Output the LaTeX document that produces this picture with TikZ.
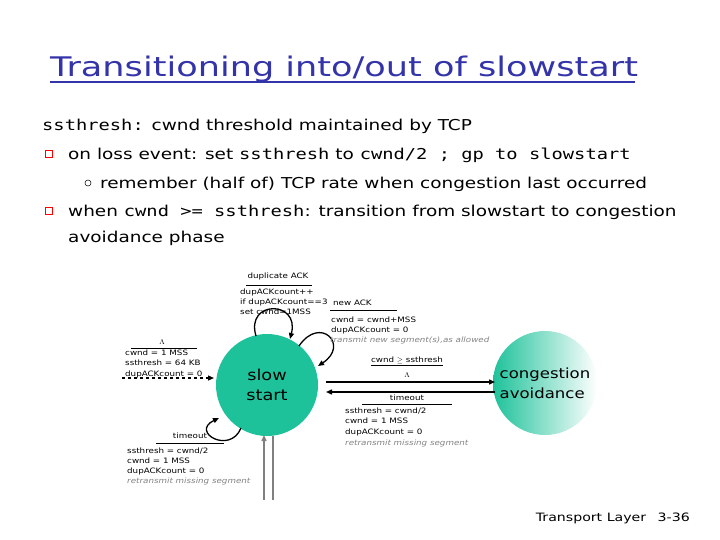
\documentclass[tikz,border=0pt]{standalone}
\usepackage{fontspec}
\setmainfont[FakeStretch=1.18]{DejaVu Sans}
\newfontfamily\slide[FakeStretch=1.23]{DejaVu Sans}
\newfontfamily\slidetitle[FakeStretch=1.3]{DejaVu Sans}
\setmonofont[FakeStretch=1.25]{DejaVu Sans Mono}
\usetikzlibrary{arrows.meta,shadings}
\definecolor{ttl}{RGB}{51,51,170}
\definecolor{ssg}{RGB}{30,194,154}
\definecolor{grayt}{RGB}{130,130,130}
\begin{document}
\begin{tikzpicture}[x=1pt,y=-1pt,
  lab/.style={font=\fontsize{7.4}{9.6}\selectfont,inner sep=0,anchor=west,align=left},
  glab/.style={lab,text=grayt,font=\fontsize{7.4}{9.6}\selectfont\itshape},
  body/.style={font=\slide\fontsize{15}{20}\selectfont,anchor=base west,inner sep=0},
  arr/.style={-{Triangle[length=6pt,width=5pt]},line width=1.4pt},
  loop/.style={-{Triangle[length=6pt,width=5pt]},line width=1.3pt}]
\useasboundingbox (0,0) rectangle (720,540);
\node[font=\slidetitle\fontsize{27}{30}\selectfont,text=ttl,anchor=base west,inner sep=0] (title) at (50,77) {Transitioning into/out of slowstart};
\draw[ttl,line width=1.5pt] (title.south west)++(0,-1) -- ++(585,0);
\node[body] (l1) at (42,131) {\texttt{ssthresh:} cwnd threshold maintained by TCP};
\node[draw=red,line width=0.6pt,minimum size=7pt,inner sep=0] (b1) at (49,154) {};
\node[body] (l2) at (68,160) {on loss event: set \texttt{ssthresh} to \texttt{cwnd/2 ; gp to slowstart}};
\node[draw,circle,minimum size=6pt,inner sep=0,line width=0.5pt] (b2) at (88,183) {};
\node[body] (l3) at (100,189) {remember (half of) TCP rate when congestion last occurred};
\node[draw=red,line width=0.6pt,minimum size=7pt,inner sep=0] (b3) at (49,211) {};
\node[body] (l4) at (68,217) {when \texttt{cwnd >= ssthresh}: transition from slowstart to congestion};
\node[body] (l5) at (68,242) {avoidance phase};

\node[circle,fill=ssg,minimum size=102pt,inner sep=0,align=center,font=\fontsize{15}{20}\selectfont] (ss) at (267,385) {slow\\start};
\shade[left color=ssg,right color=white,shading angle=90] (545,383) circle (52);
\node[circle,minimum size=104pt,inner sep=0,align=left,font=\fontsize{14}{20}\selectfont] (ca) at (545,383) {congestion\\avoidance};

\coordinate (ssr1) at (326,382); \coordinate (car1) at (495,382);
\coordinate (ssr2) at (326,392); \coordinate (car2) at (495,392);
\draw[arr] (ssr1) -- (car1);
\draw[arr] (car2) -- (ssr2);
\node[lab,anchor=center] (c1) at (407,361) {\underline{cwnd $\geq$ ssthresh}};
\node[lab,anchor=center] (c2) at (407,375) {$\Lambda$};
\node[lab,anchor=center] (t1) at (407,398) {timeout};
\draw (362,404) -- (452,404);
\node[lab] (t2) at (345,411) {ssthresh = cwnd/2};
\node[lab] (t3) at (345,421) {cwnd = 1 MSS};
\node[lab] (t4) at (345,432) {dupACKcount = 0};
\node[glab] (t5) at (345,443) {retransmit missing segment};

\coordinate (ds) at (122,378); \coordinate (de) at (214,378);
\draw[dashed,line width=1.2pt,-{Triangle[length=6pt,width=5pt]}] (ds) -- (de);
\node[lab,anchor=center] (i0) at (162,342) {$\Lambda$};
\draw (131,348) -- (197,348);
\node[lab] (i1) at (125,353) {cwnd = 1 MSS};
\node[lab] (i2) at (125,363) {ssthresh = 64 KB};
\node[lab] (i3) at (125,374) {dupACKcount = 0};

\coordinate (a1) at (256,336); \coordinate (a2) at (290,339);
\draw[loop] (a1) .. controls (245,300) and (300,300) .. (a2);
\node[lab,anchor=center] (d0) at (278,276) {duplicate ACK};
\draw (246,285) -- (312,285);
\node[lab] (d1) at (240,292) {dupACKcount++};
\node[lab] (d2) at (240,302) {if dupACKcount==3};
\node[lab] (d3) at (240,312) {set cwnd=1MSS};

\coordinate (n1) at (299,346); \coordinate (n2) at (318,366);
\draw[loop] (n1) .. controls (320,315) and (350,345) .. (n2);
\node[lab] (n0) at (333,303) {new ACK};
\draw (330,310) -- (397,310);
\node[lab] (n3) at (331,320) {cwnd = cwnd+MSS};
\node[lab] (n4) at (331,330) {dupACKcount = 0};
\node[glab] (n5) at (330,340) {transmit new segment(s),as allowed};

\coordinate (o1) at (241,428); \coordinate (o2) at (219,418);
\draw[loop] (o1) .. controls (230,455) and (190,432) .. (o2);
\node[lab,anchor=center] (o0) at (190,436) {timeout};
\draw (156,443) -- (224,443);
\node[lab] (o3) at (127,451) {ssthresh = cwnd/2};
\node[lab] (o4) at (127,461) {cwnd = 1 MSS};
\node[lab] (o5) at (127,471) {dupACKcount = 0};
\node[glab] (o6) at (127,481) {retransmit missing segment};

\coordinate (g1) at (264,500); \coordinate (g1t) at (264,435);
\coordinate (g2) at (273,500); \coordinate (g2t) at (273,436);
\draw[gray,line width=1.4pt,-{Triangle[length=6pt,width=5pt]}] (g1) -- (g1t);
\draw[gray,line width=1.4pt] (g2) -- (g2t);

\node[font=\slide\fontsize{11.5}{13}\selectfont,anchor=base east,inner sep=0] (tl) at (690,521) {Transport Layer\quad 3-36};
\end{tikzpicture}
\end{document}
